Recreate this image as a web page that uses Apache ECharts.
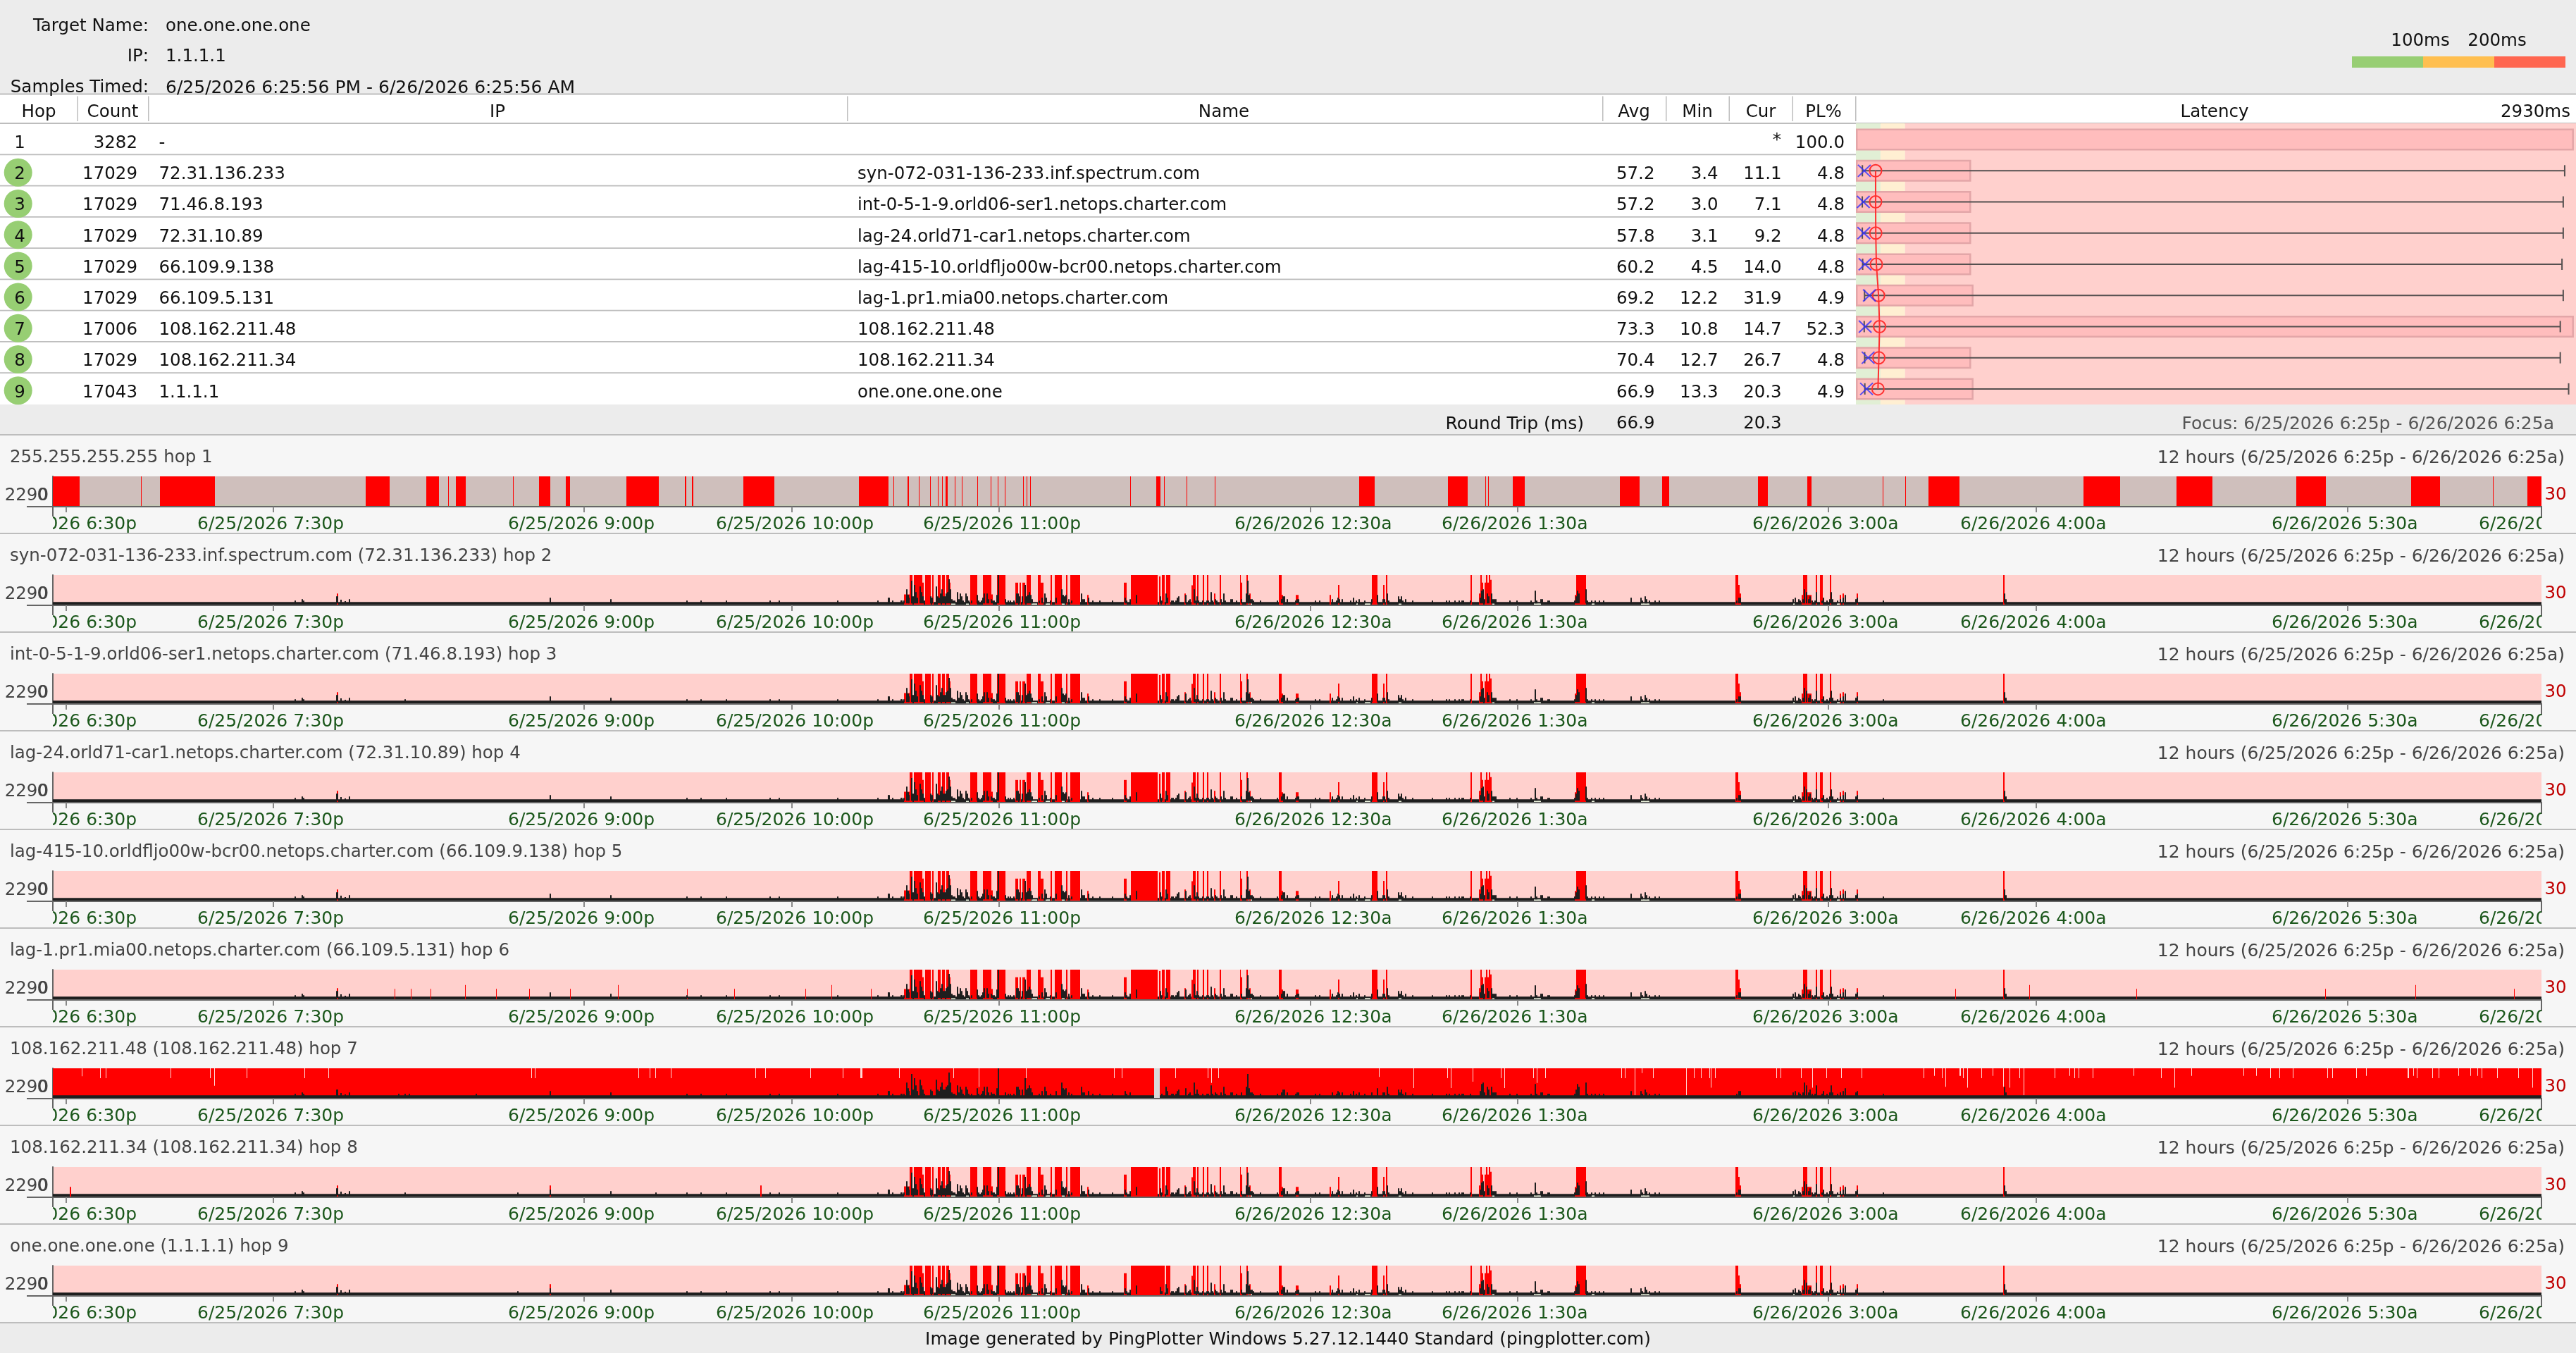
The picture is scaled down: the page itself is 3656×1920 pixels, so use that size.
<!DOCTYPE html>
<html><head><meta charset="utf-8"><title>PingPlotter</title>
<style>html,body{margin:0;padding:0;background:#ECECEC}#c{width:3656px;height:1920px}</style>
<script src="https://cdn.jsdelivr.net/npm/echarts@6/dist/echarts.min.js"></script>
</head><body><div id="c"></div>
<script>
// ---------- summary table ----------
const hops = ['1','2','3','4','5','6','7','8','9'];
const counts = ['3282','17029','17029','17029','17029','17029','17006','17029','17043'];
const ips = ['-','72.31.136.233','71.46.8.193','72.31.10.89','66.109.9.138','66.109.5.131','108.162.211.48','108.162.211.34','1.1.1.1'];
const names = ['','syn-072-031-136-233.inf.spectrum.com','int-0-5-1-9.orld06-ser1.netops.charter.com','lag-24.orld71-car1.netops.charter.com','lag-415-10.orldfljo00w-bcr00.netops.charter.com','lag-1.pr1.mia00.netops.charter.com','108.162.211.48','108.162.211.34','one.one.one.one'];
const avgMs = [null,57.2,57.2,57.8,60.2,69.2,73.3,70.4,66.9];
const minMs = [null,3.4,3.0,3.1,4.5,12.2,10.8,12.7,13.3];
const curMs = [null,11.1,7.1,9.2,14.0,31.9,14.7,26.7,20.3];
const maxMs = [null,2861,2855,2855,2850,2855,2843,2843,2877];
const plPct = [100.0,4.8,4.8,4.8,4.8,4.9,52.3,4.8,4.9];
const latencyBands = [[0,100],[100,200],[200,2930]];

// ---------- timeline panels ----------
const panelTitles = ['255.255.255.255 hop 1','syn-072-031-136-233.inf.spectrum.com (72.31.136.233) hop 2','int-0-5-1-9.orld06-ser1.netops.charter.com (71.46.8.193) hop 3','lag-24.orld71-car1.netops.charter.com (72.31.10.89) hop 4','lag-415-10.orldfljo00w-bcr00.netops.charter.com (66.109.9.138) hop 5','lag-1.pr1.mia00.netops.charter.com (66.109.5.131) hop 6','108.162.211.48 (108.162.211.48) hop 7','108.162.211.34 (108.162.211.34) hop 8','one.one.one.one (1.1.1.1) hop 9'];
const rangeText = '12 hours (6/25/2026 6:25p - 6/26/2026 6:25a)';
// x unit: one plotted column of the 12 hour window (3532 columns)
const columnCount = 3532;
const tickColumns = [19,313,754,1049,1343,1785,2079,2520,2815,3257,3551];
const tickLabels = ['6/25/2026 6:30p','6/25/2026 7:30p','6/25/2026 9:00p','6/25/2026 10:00p','6/25/2026 11:00p','6/26/2026 12:30a','6/26/2026 1:30a','6/26/2026 3:00a','6/26/2026 4:00a','6/26/2026 5:30a','6/26/2026 6:30a'];

// hop 1: total-loss spans [from,to]
const hop1Loss = [[0,38],[125,126],[152,230],[444,478],[530,548],[561,562],[572,586],[653,654],[690,706],[728,734],[814,860],[897,899],[907,909],[980,1024],[1144,1186],[1193,1194],[1213,1215],[1229,1230],[1245,1246],[1256,1257],[1262,1263],[1267,1270],[1280,1281],[1290,1291],[1312,1313],[1331,1332],[1341,1342],[1351,1352],[1377,1378],[1382,1383],[1387,1388],[1529,1530],[1566,1572],[1577,1578],[1609,1610],[1649,1650],[1854,1876],[1980,2008],[2033,2034],[2037,2038],[2072,2089],[2224,2252],[2284,2294],[2420,2434],[2490,2496],[2597,2598],[2629,2630],[2662,2706],[2882,2934],[3014,3065],[3184,3226],[3347,3388],[3463,3464],[3512,3532]];

// hops 2-9: red columns [from,to,top ms]
const sharedRed = [[403,405,860],[1208,1216,790],[1216,1220,2290],[1222,1234,2290],[1234,1236,1700],[1238,1246,2290],[1248,1250,2290],[1256,1260,2290],[1262,1266,2290],[1268,1272,2290],[1272,1274,1700],[1302,1312,2290],[1320,1332,2290],[1332,1334,790],[1340,1352,2290],[1366,1370,1700],[1372,1374,1700],[1376,1380,1700],[1382,1388,2290],[1398,1402,2290],[1402,1406,1700],[1416,1418,2290],[1422,1432,2290],[1438,1440,2290],[1444,1458,2290],[1468,1470,750],[1520,1524,1700],[1530,1568,2290],[1570,1572,2180],[1574,1578,2290],[1580,1586,2290],[1606,1608,860],[1616,1618,1500],[1618,1622,2290],[1624,1626,2290],[1632,1634,2290],[1638,1640,2290],[1648,1650,860],[1656,1658,2290],[1685,1686,2290],[1686,1688,1700],[1694,1696,2290],[1698,1700,860],[1740,1744,2290],[1744,1746,750],[1764,1768,750],[1812,1814,750],[1824,1826,1520],[1872,1880,2290],[1888,1890,1520],[1892,1894,2290],[2012,2014,2290],[2024,2026,860],[2026,2028,2290],[2028,2030,1700],[2032,2034,1700],[2034,2036,2290],[2036,2038,1700],[2038,2040,2290],[2040,2042,1920],[2160,2162,750],[2162,2176,2290],[2388,2392,2290],[2392,2394,1520],[2394,2396,860],[2482,2484,750],[2484,2490,2290],[2490,2496,750],[2502,2504,2290],[2508,2512,2290],[2522,2524,2290],[2536,2538,750],[2540,2542,860],[2560,2562,860],[2768,2770,2290]];
const sharedBaselineMs = 200;
const lowGapMs = 90;
// spans where even the fastest sample stayed above the lowest pixels
const sharedGaps = [[1275,1281],[1296,1300],[1389,1397],[1409,1415],[1432,1436],[1697,1698],[1699,1702],[1850,1852],[1862,1870],[1910,1914],[2043,2046],[2102,2112],[2184,2188],[2254,2266],[2470,2472],[2532,2536]];
// latency spikes [column, ms]
const sharedSpikes = [[343,310],[353,420],[355,310],[402,640],[403,640],[408,385],[414,270],[420,420],[705,530],[791,420],[899,310],[919,310],[955,310],[1017,310],[1030,310],[1113,310],[1170,310],[1185,530],[1186,530],[1191,310],[1203,310],[1204,310],[1207,310],[1211,1190],[1213,750],[1214,530],[1218,1850],[1220,640],[1222,1520],[1224,970],[1226,530],[1230,1410],[1232,970],[1234,640],[1236,310],[1245,640],[1247,530],[1253,1410],[1255,640],[1257,530],[1259,860],[1261,1190],[1263,640],[1265,640],[1267,860],[1269,970],[1271,1960],[1273,1190],[1275,420],[1277,310],[1279,310],[1283,970],[1285,420],[1287,860],[1289,640],[1291,310],[1295,860],[1297,640],[1299,310],[1303,310],[1311,750],[1313,310],[1317,310],[1319,530],[1321,860],[1325,860],[1327,420],[1331,420],[1333,310],[1335,310],[1339,750],[1341,2290],[1351,420],[1355,310],[1358,310],[1363,310],[1367,860],[1369,860],[1371,640],[1375,640],[1379,1520],[1381,640],[1383,750],[1385,970],[1387,750],[1389,420],[1399,310],[1403,530],[1407,860],[1409,530],[1415,310],[1423,530],[1431,1190],[1433,750],[1435,640],[1437,750],[1441,420],[1445,310],[1459,860],[1461,420],[1463,420],[1469,530],[1475,310],[1485,310],[1503,310],[1521,530],[1523,310],[1528,420],[1537,750],[1571,640],[1573,310],[1579,860],[1581,530],[1587,310],[1589,310],[1593,310],[1595,530],[1597,640],[1607,750],[1611,310],[1613,420],[1619,1190],[1621,310],[1623,640],[1625,310],[1631,310],[1637,310],[1639,310],[1643,970],[1645,310],[1649,420],[1651,310],[1657,420],[1661,860],[1663,310],[1671,420],[1673,420],[1679,310],[1686,420],[1693,860],[1695,1850],[1697,750],[1699,420],[1701,420],[1703,310],[1713,310],[1737,310],[1743,420],[1745,640],[1747,640],[1751,420],[1763,310],[1765,420],[1767,420],[1791,310],[1797,310],[1815,420],[1821,310],[1823,530],[1825,420],[1829,420],[1841,310],[1845,530],[1849,310],[1853,420],[1861,310],[1871,420],[1879,750],[1887,420],[1889,420],[1893,860],[1895,310],[1909,640],[1911,420],[1913,640],[1915,310],[1919,420],[1929,310],[1957,310],[1977,310],[1981,310],[1989,310],[1995,310],[1999,310],[2001,310],[2011,310],[2025,530],[2027,1080],[2029,1190],[2031,420],[2035,860],[2037,640],[2041,860],[2043,420],[2045,420],[2047,420],[2067,310],[2077,310],[2097,310],[2103,1080],[2105,310],[2111,420],[2113,420],[2121,310],[2123,310],[2159,310],[2161,640],[2163,1080],[2165,860],[2175,1190],[2177,310],[2183,310],[2188,310],[2194,310],[2200,310],[2239,530],[2253,530],[2255,310],[2259,640],[2261,420],[2265,310],[2273,310],[2279,310],[2389,310],[2392,530],[2394,530],[2469,420],[2472,530],[2477,420],[2479,310],[2483,420],[2485,1190],[2488,970],[2491,420],[2493,640],[2496,310],[2500,310],[2502,970],[2510,310],[2512,530],[2517,310],[2521,420],[2523,970],[2525,420],[2532,310],[2536,420],[2540,530],[2543,750],[2558,420],[2560,530],[2597,310],[2769,860],[2771,420]];
// per-hop additions (hop index 1..8 = hop 2..9)
const extraRed = {
  5:[[485,486,800],[508,509,800],[536,537,800],[585,586,1100],[629,630,800],[676,677,800],[734,735,800],[802,803,1100],[900,901,800],[967,968,800],[1068,1069,800],[1105,1106,1100],[1161,1162,800],[2537,2538,800],[2700,2701,800],[2805,2806,1100],[2957,2958,800],[3225,3226,800],[3353,3354,1100],[3493,3494,800]],
  7:[[24,26,750],[705,707,860],[1004,1006,860]],
  8:[[705,707,860],[1568,1574,2290]]
};
const extraSpikes = {
  2:[[499,310]],
  6:[[490,310],[499,310],[505,310],[600,310]],
  7:[[499,310],[659,310],[855,310]],
  8:[[659,310]]
};
// hop 7: nearly all columns lost; notches [column, depth from top in ms]
const hop7Notches = [[41,620],[67,760],[75,760],[167,760],[223,760],[229,1345],[275,760],[357,760],[391,760],[679,760],[684,760],[831,760],[847,760],[855,760],[877,760],[997,760],[1011,760],[1075,760],[1121,760],[1146,760],[1147,760],[1148,760],[1201,760],[1278,760],[1314,1450],[1381,760],[1506,760],[1517,760],[1593,760],[1639,760],[1644,1130],[1654,760],[1882,670],[1931,1530],[1979,760],[1984,1530],[2015,1035],[2055,760],[2060,1530],[2101,760],[2106,1130],[2118,760],[2226,760],[2231,760],[2245,2085],[2255,370],[2271,760],[2318,2085],[2329,770],[2339,770],[2351,770],[2353,1500],[2359,770],[2446,770],[2452,770],[2481,770],[2497,1500],[2517,770],[2538,770],[2567,770],[2655,770],[2670,590],[2681,770],[2686,1430],[2706,590],[2707,590],[2711,770],[2717,1500],[2737,770],[2753,590],[2768,1430],[2777,1500],[2791,770],[2797,2085],[2841,770],[2862,590],[2869,770],[2875,770],[2895,770],[2953,590],[2992,770],[3011,1500],[3035,590],[3109,590],[3127,590],[3147,770],[3160,770],[3179,770],[3228,770],[3235,770],[3269,770],[3283,590],[3342,770],[3343,770],[3350,590],[3355,770],[3377,770],[3386,770],[3414,590],[3431,590],[3441,590],[3447,770],[3469,770],[3499,770],[3519,1500]];
const hop7Blank = [[1563,1571]];

// ---------- style ----------
const FONT = '"DejaVu Sans", Verdana, sans-serif';
const FS = 24.5, FS_DATE = 25, TEXT_DY = 2;
const C = {line:'#BDBDBD',panel:'#F6F6F6',top:'#ECECEC',pink:'#FFD0CD',gray:'#CFBFBC',red:'#FF0000',black:'#1E1E1E',pale:'#EAF2DC',axis:'#666666',tick:'#888888',green:'#1B571B',title:'#444444'};
const PLOT_L=75, PLOT_W=columnCount, PANEL0=617, PANEL_H=140;
const panelTop = i => PANEL0 + i*PANEL_H;

const gfx = [];
function rect(x,y,w,h,fill,z){gfx.push({type:'rect',silent:true,z:z===undefined?-10:z,shape:{x,y,width:w,height:h},style:{fill}});}
function text(t,x,y,o){o=o||{};gfx.push({type:'text',silent:true,z:o.z===undefined?5:o.z,style:{text:t,x,y:y+TEXT_DY,fill:o.fill||'#111111',font:(o.size||FS)+'px '+FONT,textAlign:o.align||'left',textVerticalAlign:'middle'}});}

// backgrounds
rect(0,175,2634,399,'#FFFFFF');
rect(0,133,3656,42,'#FFFFFF');
for(let i=0;i<9;i++) rect(0,panelTop(i),3656,PANEL_H,C.panel);
// header
text('Target Name:',211,36,{align:'right'}); text('one.one.one.one',235,36);
text('IP:',211,79,{align:'right'}); text('1.1.1.1',235,79);
text('Samples Timed:',211,123,{align:'right'}); text('6/25/2026 6:25:56 PM - 6/26/2026 6:25:56 AM',235,123,{size:FS_DATE});
text('100ms',3435,57,{align:'center'}); text('200ms',3544,57,{align:'center'});
rect(3338,80,101,16,'#97CE73',1); rect(3439,80,101,16,'#FFBF50',1); rect(3540,80,101,16,'#FF6650',1);
rect(0,132.5,3656,2,C.line,1); rect(0,174,3656,2,C.line,1);
[109.5,210,1202,2274,2364,2453.5,2543.5,2633].forEach(x=>rect(x,136.5,1.5,35.5,C.line,1));
const headerCols=[['Hop',55],['Count',160],['IP',706],['Name',1737],['Avg',2319],['Min',2409],['Cur',2499],['PL%',2588],['Latency',3143]];
headerCols.forEach(h=>text(h[0],h[1],158,{align:'center'}));
text('2930ms',3648,158,{align:'right'});
// rows
hops.forEach((h,i)=>{
  const y=201.6+44.2*i;
  if(i<8) rect(0,218.5+44.25*i,2634,1.8,C.line,1);
  if(i>0) gfx.push({type:'circle',silent:true,z:2,shape:{cx:25.7,cy:y-1,r:20},style:{fill:'#97CE73'}});
  text(h,28,y,{align:'center'});
  text(counts[i],195,y,{align:'right'});
  text(ips[i],225.5,y);
  text(names[i],1217,y);
  if(avgMs[i]!==null){
    text(avgMs[i].toFixed(1),2348.5,y,{align:'right'});
    text(minMs[i].toFixed(1),2438.6,y,{align:'right'});
    text(curMs[i].toFixed(1),2528.7,y,{align:'right'});
  } else text('*',2528,y-4,{align:'right'});
  text(plPct[i].toFixed(1),2618,y,{align:'right'});
});
text('Round Trip (ms)',2248,600,{align:'right',size:FS_DATE});
text(avgMs[8].toFixed(1),2348.5,600,{align:'right'});
text(curMs[8].toFixed(1),2528.7,600,{align:'right'});
text('Focus: 6/25/2026 6:25p - 6/26/2026 6:25a',3625,600,{align:'right',fill:'#555555',size:FS_DATE});
// panels
panelTitles.forEach((t,i)=>{
  const top=panelTop(i);
  rect(0,top-1,3656,2,C.line,1);
  text(t,14,top+31,{fill:C.title});
  text(rangeText,3640,top+31,{align:'right',fill:C.title,size:FS_DATE});
  text('2290',69,top+84.5,{align:'right',fill:C.title});
  text('0',68,top+84.5,{align:'right',fill:C.title});
  text('30',3611.5,top+84,{fill:'#C00000'});
  rect(38,top+101,37,2,C.axis,3);          // axis line run-out to the left
  rect(74,top+101,2,15,C.axis,3);          // start-of-range mark
  rect(3606,top+101,2,17,C.axis,3);        // end-of-range mark
});
rect(0,panelTop(9)-1,3656,2,C.line,1);
text('Image generated by PingPlotter Windows 5.27.12.1440 Standard (pingplotter.com)',1828,1900,{align:'center',size:24.8});

// ---------- series helpers ----------
function rectItem(colorFn){
  return function(params,api){
    const p0=api.coord([api.value(0),api.value(2)]), p1=api.coord([api.value(1),api.value(3)]);
    return {type:'rect',shape:{x:p0[0],y:p1[1],width:p1[0]-p0[0],height:p0[1]-p1[1]},style:{fill:colorFn(params.dataIndex)}};
  };
}
function rectSeries(g,data,color,z){
  return {type:'custom',xAxisIndex:g,yAxisIndex:g,silent:true,animation:false,z:z,clip:false,
    encode:{x:[0,1],y:[2,3]},data:data,renderItem:rectItem(()=>color)};
}
const grids=[],xAxes=[],yAxes=[],series=[];
const tickData = tickColumns.map((c,i)=>[c,i]);
panelTitles.forEach((t,i)=>{
  const top=panelTop(i), isHop1=i===0, isHop7=i===6;
  grids.push({left:PLOT_L,width:PLOT_W,top:top+59,height:42,show:true,borderWidth:0,backgroundColor:isHop1?C.gray:C.pink});
  xAxes.push({type:'value',gridIndex:i,min:0,max:columnCount,offset:1,splitLine:{show:false},
    axisLine:{show:true,onZero:false,lineStyle:{color:C.axis,width:2}},
    axisTick:{show:true,length:8,customValues:tickColumns.slice(0,10),lineStyle:{color:C.tick,width:2}},
    axisLabel:{show:false}});
  yAxes.push({type:'value',gridIndex:i,min:0,max:2290,splitLine:{show:false},axisTick:{show:false},axisLabel:{show:false},
    axisLine:{show:true,lineStyle:{color:C.axis,width:2}}});
  if(isHop1){
    series.push(rectSeries(i,[[0,columnCount,0,110]],'#C6C6B4',2));
    series.push(rectSeries(i,hop1Loss.map(s=>[s[0],s[1],0,2290]),C.red,3));
  } else if(isHop7){
    series.push(rectSeries(i,[[0,columnCount,0,2290]],C.red,2));
    series.push(rectSeries(i,hop7Notches.map(n=>[n[0],n[0]+1,2290-n[1],2290]),'#FFD9D6',3));
    series.push(rectSeries(i,hop7Blank.map(s=>[s[0],s[1],0,2290]),'#D9D9D9',3));
    series.push(rectSeries(i,[[0,hop7Blank[0][0],0,sharedBaselineMs],[hop7Blank[0][1],columnCount,0,sharedBaselineMs]],C.black,4));
    series.push(rectSeries(i,sharedSpikes.concat(extraSpikes[i]||[]).filter(s=>s[0]<1530||s[0]>1571).map(s=>[s[0],s[0]+2,0,s[1]]),C.black,5));
  } else {
    series.push(rectSeries(i,[[0,columnCount,0,sharedBaselineMs]],C.black,2));
    series.push(rectSeries(i,sharedGaps.map(s=>[s[0],s[1],0,lowGapMs]),C.pale,3));
    series.push(rectSeries(i,sharedRed.concat(extraRed[i]||[]).map(s=>[s[0],s[1],0,s[2]]),C.red,4));
    series.push(rectSeries(i,sharedSpikes.concat(extraSpikes[i]||[]).map(s=>[s[0],s[0]+2,lowGapMs,s[1]]),C.black,5));
  }
  // time labels, left-anchored and clipped to the plot width
  series.push({type:'custom',xAxisIndex:i,yAxisIndex:i,silent:true,animation:false,clip:false,z:6,
    encode:{x:0},data:tickData,
    renderItem:(params,api)=>{
      const x=api.coord([api.value(0),0])[0];
      const yTop=top+101, idx=api.value(1);
      return {type:'text',style:{text:tickLabels[idx],x:x-108,y:top+127,fill:C.green,font:FS_DATE+'px '+FONT,textAlign:'left',textVerticalAlign:'middle'},
        clipPath:{type:'rect',shape:{x:PLOT_L,y:yTop,width:PLOT_W,height:38}}};
    }});
});

// ---------- latency grid ----------
const L=9;
const LAT_L=2634, LAT_W=1022, PL_AXIS_MAX=30, MARK_SHIFT_MS=23;
grids.push({left:LAT_L,width:LAT_W,top:176,height:398});
// axis L: latency bands; axis L+1: packet loss; axis L+2: latency markers (drawn 8px right of the band origin)
xAxes.push({type:'value',gridIndex:L,min:0,max:2930,show:false});
xAxes.push({type:'value',gridIndex:L,min:0,max:PL_AXIS_MAX,show:false});
xAxes.push({type:'value',gridIndex:L,min:-MARK_SHIFT_MS,max:2930-MARK_SHIFT_MS,show:false});
yAxes.push({type:'category',gridIndex:L,data:hops,inverse:true,show:false});
const bandColors=['#E1EFD5','#FFEFD2','#FFD0CD'];
series.push({type:'custom',xAxisIndex:L,yAxisIndex:L,silent:true,animation:false,z:1,clip:false,encode:{x:[0,1]},
  data:latencyBands,
  renderItem:(params,api)=>{
    const a=api.coord([api.value(0),0])[0], b=api.coord([api.value(1),0])[0], cs=params.coordSys;
    return {type:'rect',shape:{x:a,y:cs.y-1,width:b-a,height:cs.height+1},style:{fill:bandColors[params.dataIndex]}};
  }});
const plData=plPct.map((v,i)=>[Math.min(v,PL_AXIS_MAX*0.997),hops[i]]);
series.push({type:'bar',xAxisIndex:L+1,yAxisIndex:L,silent:true,animation:false,z:2,barWidth:31,data:plData,
  itemStyle:{color:'#FFBDBD',borderColor:'#E3A6A8',borderWidth:2.5}});
const markerRows=hops.map((h,i)=>({h,i})).filter(r=>avgMs[r.i]!==null);
series.push({type:'custom',xAxisIndex:L+2,yAxisIndex:L,silent:true,animation:false,z:3,clip:false,encode:{x:[0,1],y:2},
  data:markerRows.map(r=>[minMs[r.i],maxMs[r.i],r.h]),
  renderItem:(params,api)=>{
    const y=api.coord([0,api.value(2)])[1], a=api.coord([api.value(0),0])[0], b=api.coord([api.value(1),0])[0];
    const st={stroke:'#555050',lineWidth:2};
    return {type:'group',children:[
      {type:'line',shape:{x1:a,y1:y,x2:b,y2:y},style:st},
      {type:'line',shape:{x1:a,y1:y-8,x2:a,y2:y+8},style:st},
      {type:'line',shape:{x1:b,y1:y-8,x2:b,y2:y+8},style:st}]};
  }});
series.push({type:'line',xAxisIndex:L+2,yAxisIndex:L,silent:true,animation:false,z:4,
  data:markerRows.map(r=>[avgMs[r.i],r.h]),symbol:'circle',symbolSize:17,showSymbol:true,
  lineStyle:{color:'#FF3030',width:2},itemStyle:{color:'rgba(0,0,0,0)',borderColor:'#FF3030',borderWidth:2}});
series.push({type:'scatter',xAxisIndex:L+2,yAxisIndex:L,silent:true,animation:false,z:5,
  data:markerRows.map(r=>[curMs[r.i],r.h]),symbol:'path://M0 0L10 10M10 0L0 10',symbolSize:[18,17],
  itemStyle:{color:'rgba(0,0,0,0)',borderColor:'#2F2FFF',borderWidth:2}});

const chart=echarts.init(document.getElementById('c'),null,{renderer:'canvas',width:3656,height:1920});
chart.setOption({animation:false,backgroundColor:C.top,grid:grids,xAxis:xAxes,yAxis:yAxes,series:series,graphic:{elements:gfx}});
</script></body></html>
